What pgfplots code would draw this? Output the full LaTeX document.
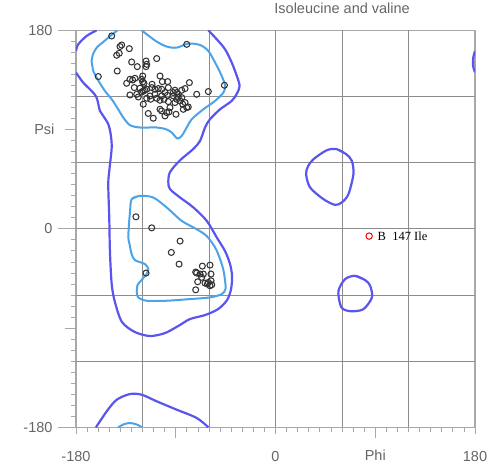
\documentclass[border=0pt]{standalone}
\usepackage{fontspec}
\setmainfont{Liberation Sans}
\newfontfamily\serifl{Liberation Serif}
\usepackage{pgfplots}
\pgfplotsset{compat=1.18}
\definecolor{cdark}{HTML}{5A55EE}
\definecolor{clight}{HTML}{4DA3E8}
\definecolor{gridc}{HTML}{8C8C8C}
\definecolor{framec}{HTML}{A8A8A8}
\definecolor{txt}{HTML}{666666}
\begin{document}
\begin{tikzpicture}[x=1pt,y=1pt]
\begin{axis}[
 scale only axis, width=399pt, height=397pt,
 xmin=-180,xmax=180,ymin=-180,ymax=180,
 axis line style={framec, line width=1.2pt},
 tick align=outside, tick pos=left,
 xtick={-90,90}, xticklabels={,Phi},
 ytick={-90,90}, yticklabels={,Psi},
 major tick length=11pt, minor tick length=5pt,
 minor xtick={-170,-160,...,170}, minor ytick={-170,-160,...,170},
 every tick/.style={framec, line width=0.8pt},
 extra x ticks={-180,0,180}, extra x tick labels={-180,0,180},
 extra y ticks={-180,0,180}, extra y tick labels={-180,0,180},
 tick label style={font=\fontsize{14.5}{16}\selectfont, text=txt},
 xticklabel style={yshift=-8pt},
 yticklabel style={xshift=-7pt},
 extra x tick style={major tick length=7pt, xticklabel style={yshift=-6pt}},
 extra y tick style={major tick length=18pt, yticklabel style={xshift=5pt}},
 /pgf/number format/assume math mode=true,
 title={Isoleucine and valine},
 title style={at={(axis description cs:0.667,1)}, anchor=base, yshift=10.5pt, font=\fontsize{14.5}{16}\selectfont, text=txt},
]
\pgfplotsinvokeforeach{-120,-60,0,60,120}{
 \draw[gridc, line width=0.8pt] (axis cs:#1,-180) -- (axis cs:#1,180);
 \draw[gridc, line width=0.8pt] (axis cs:-180,#1) -- (axis cs:180,#1);
}
% dark contours
\addplot[cdark, line width=2.2pt, smooth] coordinates {
(-180,141.7) (-173.5,132.6) (-165.9,125.0) (-161.4,119.0) (-158.4,106.9) (-155.4,102.4)
(-150.9,94.9) (-148.7,85.8) (-147.8,73.7) (-149.8,54.1) (-150.9,40.5) (-150.0,10.3)
(-149.4,-19.9) (-147.8,-50.1) (-144.8,-66.7) (-138.5,-84.5) (-126.8,-93.6) (-113.2,-97.2)
(-99.7,-94.5) (-87.9,-88.2) (-77.1,-81.8) (-63.6,-78.2) (-51.8,-72.8) (-43.7,-64.6)
(-40.1,-54.6) (-39.2,-42.9) (-41.0,-32.0) (-45.5,-20.2) (-53.0,-7.8) (-62.0,7.2)
(-74.1,19.4) (-86.1,28.4) (-95.2,36.0) (-96.7,42.3) (-95.2,51.4) (-86.1,62.2)
(-74.4,72.2) (-68.1,79.7) (-63.6,91.9) (-59.1,99.4) (-50.0,108.4) (-39.5,116.0)
(-34.7,122.9) (-32.4,129.6) (-34.9,138.6) (-39.5,150.8) (-45.5,162.8) (-53.0,171.9) (-60.6,180)
};
\addplot[cdark, line width=2.2pt, smooth] coordinates {
(-161.4,180) (-170.4,174.9) (-178,167.3) (-180,161.3)
};
\addplot[cdark, line width=2.2pt, smooth] coordinates {
(180,161.3) (178.4,155) (178.2,148) (180,142)
};
\addplot[cdark, line width=2.2pt, smooth] coordinates {
(-162,-180) (-152.3,-165.5) (-143.3,-155) (-131.3,-149.8) (-120.7,-150.4)
(-107.2,-156.4) (-89.1,-164) (-71.1,-171.5) (-60.6,-180)
};
\addplot[cdark, line width=2.2pt, smooth] coordinates {
(55.4,72.2) (63.8,67.7) (68.9,61.6) (70.3,49.6) (65.8,31.4) (60.1,24.2) (53.8,21.7)
(43.3,26.9) (31.2,37.5) (27.6,49.6) (29.4,56.8) (34.2,63.1) (46.3,71.3) (55.4,72.2) (63.8,67.7)
};
\addplot[cdark, line width=2.2pt, smooth] coordinates {
(71.9,-42.6) (80.9,-46.5) (85.4,-51.6) (87.0,-62.2) (79.4,-72.8) (68.9,-74.8) (61.0,-72.8)
(58.3,-68.2) (56.8,-56.2) (62.8,-45.6) (71.9,-42.6) (80.9,-46.5)
};
% light contours
\addplot[clight, line width=2pt, smooth] coordinates {
(-142.6,180) (-149.4,174.6) (-155.7,169.2) (-161.1,164.6) (-164.7,158.3) (-165.9,152.2)
(-165.2,147.4) (-164.4,143.1) (-162.0,138.3) (-158.4,132.0) (-153.9,125.0) (-147.8,117.5)
(-141.9,108.4) (-137.3,100.9) (-131.3,94.0) (-122.3,91.9) (-107.2,91.9) (-98.8,90.3)
(-93.6,87.3) (-88.6,81.9) (-84.6,84.3) (-80.1,91.9) (-75.6,99.4) (-65.1,108.4)
(-54.5,116.0) (-47.0,123.6) (-45.5,129.6) (-48.5,138.6) (-54.5,150.8) (-60.6,161.3)
(-68.1,166.7) (-78.7,168.0) (-89.1,164.3) (-98.2,165.3) (-107.2,169.8) (-116.2,176.4) (-120.7,180)
};
\addplot[clight, line width=2pt, smooth] coordinates {
(-141.9,-180) (-137.5,-177.5) (-132.8,-176.2) (-128.3,-176.5) (-123.8,-178) (-120.7,-180)
};
\addplot[clight, line width=2pt, smooth] coordinates {
(-129.8,26.9) (-122.3,29.9) (-110.3,28.4) (-98.2,19.4) (-84.6,7.2) (-71.1,-0.3)
(-62.0,-6.6) (-54.5,-16.9) (-50.0,-27.5) (-47.0,-37.4) (-45.5,-47.1) (-45.1,-54.6)
(-48.5,-59.2) (-59.1,-62.2) (-77.1,-63.7) (-98.2,-65.2) (-116.2,-65.2) (-123.8,-62.2)
(-125.2,-57.3) (-124.5,-51.0) (-120.9,-46.5) (-116.4,-41.0) (-114.8,-36.5) (-117.7,-32.0)
(-126.8,-28.4) (-129.8,-22.9) (-131.7,-13.9) (-132.8,-7.8) (-132.2,4.3) (-131.3,14.9)
(-129.8,26.9) (-122.3,29.9)
};
% residues
\addplot[only marks, mark=o, mark size=3pt, mark options={draw=black!80, line width=1.05pt}] coordinates {
(-147.8,174.9) (-80.1,167.3) (-138.8,166.7) (-140.3,165.3) (-131.9,163.4) (-143.3,157.4)
(-141.0,159.2) (-116.8,152.2) (-116.2,149.2) (-116.8,147.1) (-107.2,154.4) (-129.8,151.3)
(-124.7,147.1) (-142.8,143.1) (-159.9,138.1) (-119.8,138.6) (-126.8,136.5) (-128.9,135.0)
(-131.3,135.6) (-120.7,135.6) (-119.8,133.2) (-134.3,132.0) (-104.2,138.6) (-102.1,133.5)
(-97.3,133.5) (-127.4,128.1) (-119.3,125.0) (-117.8,125.7) (-116.2,126.6) (-120.7,124.1)
(-111.7,128.1) (-108.7,126.6) (-105.7,127.2) (-125.2,122.0) (-131.3,121.4) (-102.7,126.6)
(-99.7,123.6) (-108.7,122.0) (-113.2,120.5) (-102.7,120.5) (-97.6,121.1) (-46.1,130.2)
(-60.6,124.5) (-71.1,122.0) (-77.7,132.6) (-81.6,127.2) (-84.6,125.7) (-90.7,125.7)
(-92.2,123.6) (-89.1,123.6) (-87.7,122.0) (-96.7,128.1) (-123.8,119.6) (-116.2,118.4)
(-112.6,117.5) (-107.2,118.4) (-104.2,116.6) (-100.6,117.5) (-96.7,115.4) (-114.8,104.6)
(-110.3,100.3) (-104.2,108.4) (-102.7,106.9) (-98.2,105.5) (-119.3,113.0) (-95.2,110.0)
(-90.7,114.5) (-89.1,117.5) (-86.1,116.0) (-83.2,108.4) (-80.1,110.0) (-87.7,119.6)
(-84.6,119.0) (-92.2,120.5) (-99.7,102.4) (-81.6,114.5) (-78.7,110.5) (-83.7,113.0)
(-89.8,103.9) (-96.1,106.0) (-118.7,132.0) (-111.4,131.1) (-122.3,127.5)
(-125.9,10.9) (-111.7,0.9) (-86.1,-11.1) (-94.0,-21.4) (-87.0,-32.0) (-116.8,-40.1)
(-66.0,-33.8) (-59.1,-32.9) (-72.0,-39.2) (-71.1,-40.1) (-68.1,-41.0) (-65.1,-41.0)
(-58.2,-41.0) (-66.6,-44.0) (-70.2,-48.0) (-63.6,-49.2) (-61.5,-50.1) (-59.1,-51.6)
(-57.5,-50.7) (-60.6,-48.6) (-58.2,-47.1) (-72.0,-55.3)
};
\addplot[only marks, mark=o, mark size=3.2pt, mark options={draw=red, line width=1pt}] coordinates {(84.5,-6.6)};
\node[anchor=west, inner sep=0pt, font=\serifl\fontsize{12.5}{14}\selectfont] at (axis cs:92,-6.6) {B\ \ 147 Ile};
\end{axis}
\path (current axis.south west) ++(-76pt,-40pt) rectangle ++(500pt,463pt);
\end{tikzpicture}
\end{document}
